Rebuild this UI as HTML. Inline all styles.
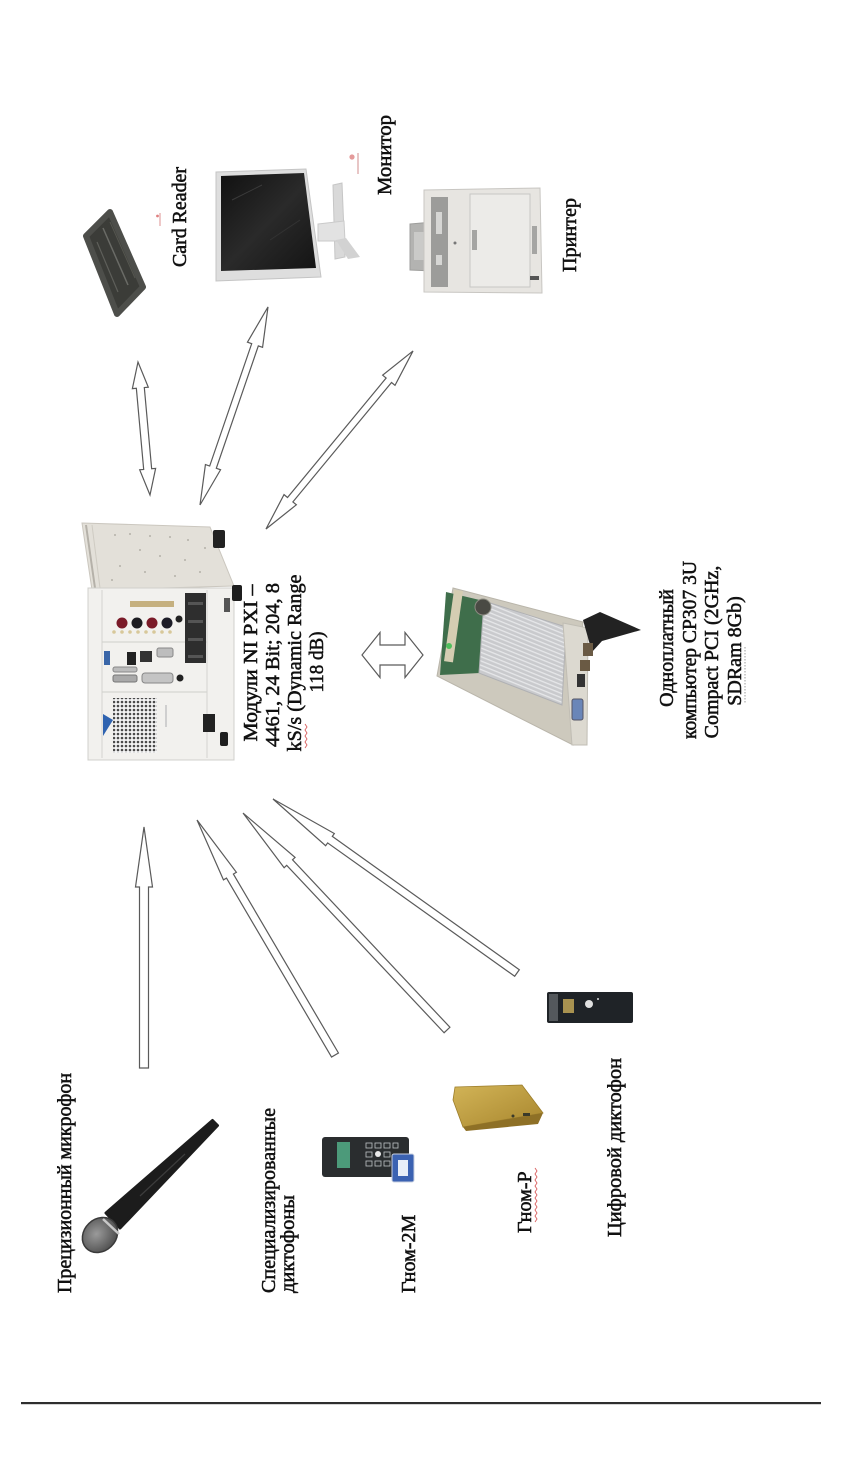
<!DOCTYPE html>
<html>
<head>
<meta charset="utf-8">
<style>
  html,body{margin:0;padding:0;background:#fff;}
  body{width:841px;height:1469px;overflow:hidden;}
  svg{display:block;}
  .t{font-family:"Liberation Serif","Noto Serif CJK SC",serif;font-size:20px;fill:#111;stroke:#111;stroke-width:0.55;}
  .ar{fill:#fff;stroke:#5a5a5a;stroke-width:1.2;stroke-linejoin:miter;}
</style>
</head>
<body>
<svg width="841" height="1469" viewBox="0 0 841 1469" xmlns="http://www.w3.org/2000/svg">
<defs>
  <pattern id="grill" width="4" height="4" patternUnits="userSpaceOnUse">
    <rect width="4" height="4" fill="#f4f4f4"/>
    <circle cx="2" cy="2" r="1.3" fill="#4a4a4a"/>
  </pattern>
  <pattern id="fins" width="4" height="4" patternUnits="userSpaceOnUse" patternTransform="rotate(22)">
    <rect width="4" height="4" fill="#c9cacd"/>
    <rect width="4" height="1.3" fill="#e6e7e9"/>
  </pattern>
  <linearGradient id="gold" x1="0" y1="0" x2="1" y2="1">
    <stop offset="0" stop-color="#d2b457"/>
    <stop offset="1" stop-color="#a8862e"/>
  </linearGradient>
  <linearGradient id="screen" x1="0" y1="0" x2="1" y2="1">
    <stop offset="0" stop-color="#111"/>
    <stop offset="0.5" stop-color="#2a2a2a"/>
    <stop offset="1" stop-color="#141414"/>
  </linearGradient>
  <radialGradient id="mich" cx="0.45" cy="0.4" r="0.6">
    <stop offset="0" stop-color="#9a9a9a"/>
    <stop offset="1" stop-color="#505050"/>
  </radialGradient>
</defs>

<!-- ================= CARD READER ================= -->
<polygon points="86,236 110,212 143,287 117,314" fill="#3b3c38" stroke="#4d4e4a" stroke-width="6" stroke-linejoin="round"/>
<line x1="103" y1="228" x2="128" y2="285" stroke="#6a6b66" stroke-width="1.5"/>
<line x1="97" y1="242" x2="118" y2="292" stroke="#5e5f5a" stroke-width="1.2"/>
<line x1="110" y1="222" x2="135" y2="278" stroke="#55564f" stroke-width="1"/>
<text class="t" transform="translate(186,267) rotate(-90)" textLength="100" lengthAdjust="spacingAndGlyphs">Card Reader</text>
<line x1="160" y1="213" x2="160" y2="226" stroke="#e3a3a3" stroke-width="1.2"/>
<circle cx="157.5" cy="216" r="1.4" fill="#e08080"/>

<!-- ================= MONITOR ================= -->
<polygon points="216,172 306,169 321,277 216,281" fill="#dedede" stroke="#c4c4c4"/>
<polygon points="221,176 304,173 316,268 221,271" fill="url(#screen)"/>
<line x1="232" y1="200" x2="262" y2="185" stroke="#3a3a3a" stroke-width="1"/>
<line x1="270" y1="240" x2="300" y2="220" stroke="#333" stroke-width="1"/>
<!-- stand -->
<polygon points="333,185 342,183 345,257 335,259" fill="#d9d9d9" stroke="#c6c6c6"/>
<polygon points="318,224 344,221 345,241 318,241" fill="#e2e2e2" stroke="#cacaca"/>
<polygon points="336,240 346,238 360,257 348,259" fill="#d2d2d2"/>
<circle cx="352" cy="157" r="2.6" fill="#e49a9a"/>
<line x1="358" y1="153" x2="358" y2="174" stroke="#d9a0a0" stroke-width="1.2"/>
<text class="t" transform="translate(391,195) rotate(-90)" textLength="80" lengthAdjust="spacingAndGlyphs">Монитор</text>

<!-- ================= PRINTER ================= -->
<polygon points="410,224 433,222 433,271 410,270" fill="#b3b3b1" stroke="#9e9e9c"/>
<rect x="414" y="232" width="10" height="28" fill="#cacac8"/>
<polygon points="424,190 540,188 542,293 424,292" fill="#e7e5e1" stroke="#c8c6c2"/>
<rect x="431" y="197" width="17" height="90" fill="#9c9c9a"/>
<rect x="436" y="212" width="6" height="22" fill="#d6d6d4"/>
<rect x="436" y="255" width="6" height="10" fill="#d6d6d4"/>
<rect x="470" y="194" width="60" height="93" fill="#ecebe8" stroke="#c7c7c5"/>
<rect x="472" y="230" width="5" height="20" fill="#a5a5a3"/>
<rect x="532" y="226" width="5" height="28" fill="#a5a5a3"/>
<rect x="530" y="276" width="9" height="4" fill="#555"/>
<circle cx="455" cy="243" r="1.5" fill="#777"/>
<text class="t" transform="translate(576,272) rotate(-90)" textLength="74" lengthAdjust="spacingAndGlyphs">Принтер</text>

<!-- ================= TOP ARROWS ================= -->
<polygon class="ar" transform="translate(150,495) rotate(-95.16)" points="0,0 26,-8 26,-4 107.5,-4 107.5,-8 133.5,0 107.5,8 107.5,4 26,4 26,8"/>
<polygon class="ar" transform="translate(200,505) rotate(-71.05)" points="0,0 40,-8 40,-3.5 169.4,-3.5 169.4,-8 209.4,0 169.4,8 169.4,3.5 40,3.5 40,8"/>
<polygon class="ar" transform="translate(266,529) rotate(-50.45)" points="0,0 38,-8 38,-3.5 192.9,-3.5 192.9,-8 230.9,0 192.9,8 192.9,3.5 38,3.5 38,8"/>

<!-- ================= PXI CHASSIS ================= -->
<polygon points="82,523 210,527 234,586 92,590" fill="#e3e0d9" stroke="#cbc7bf"/>
<line x1="86" y1="525" x2="95" y2="588" stroke="#b5b1a9" stroke-width="2"/>
<line x1="92" y1="525" x2="100" y2="588" stroke="#cfcbc3" stroke-width="1"/>
<g fill="#b4b0a8">
  <circle cx="115" cy="535" r="1"/><circle cx="130" cy="534" r="1"/><circle cx="150" cy="536" r="1"/><circle cx="170" cy="537" r="1"/>
  <circle cx="188" cy="540" r="1"/><circle cx="140" cy="550" r="1"/><circle cx="160" cy="556" r="1"/><circle cx="185" cy="560" r="1"/>
  <circle cx="120" cy="566" r="1"/><circle cx="145" cy="572" r="1"/><circle cx="175" cy="576" r="1"/><circle cx="200" cy="572" r="1"/>
  <circle cx="112" cy="580" r="1"/><circle cx="205" cy="548" r="1"/>
</g>
<rect x="213" y="530" width="12" height="18" rx="2" fill="#222"/>
<!-- front -->
<rect x="88" y="588" width="146" height="172" fill="#f2f1ee" stroke="#d0d0cc"/>
<line x1="102" y1="590" x2="102" y2="758" stroke="#d4d4d0"/>
<line x1="102" y1="642" x2="207" y2="642" stroke="#cfcfcb"/>
<line x1="102" y1="692" x2="207" y2="692" stroke="#cfcfcb"/>
<line x1="207" y1="590" x2="207" y2="758" stroke="#d4d4d0"/>
<!-- module 1 -->
<rect x="130" y="601" width="44" height="6" fill="#c5b07f"/>
<circle cx="122" cy="623" r="5.5" fill="#7a1a28"/>
<circle cx="137" cy="623" r="5.5" fill="#1d1d22"/>
<circle cx="152" cy="623" r="5.5" fill="#7a1a28"/>
<circle cx="167" cy="623" r="5.5" fill="#1d1d28"/>
<circle cx="179" cy="619" r="3.5" fill="#222"/>
<g fill="#d8c89a">
  <circle cx="114" cy="632" r="1.8"/><circle cx="122" cy="632" r="1.8"/><circle cx="130" cy="632" r="1.8"/><circle cx="138" cy="632" r="1.8"/>
  <circle cx="146" cy="632" r="1.8"/><circle cx="154" cy="632" r="1.8"/><circle cx="162" cy="632" r="1.8"/><circle cx="170" cy="632" r="1.8"/>
</g>
<!-- module 2 -->
<rect x="104" y="651" width="6" height="14" fill="#3a66a8"/>
<rect x="127" y="652" width="9" height="13" fill="#222"/>
<rect x="140" y="651" width="12" height="11" fill="#333"/>
<rect x="157" y="648" width="16" height="9" rx="2" fill="#bdbdbd" stroke="#888"/>
<rect x="113" y="667" width="24" height="5" rx="2" fill="#bcbcbc" stroke="#888"/>
<rect x="113" y="675" width="24" height="7" rx="2" fill="#a9a9a9" stroke="#777"/>
<rect x="142" y="673" width="31" height="10" rx="3" fill="#c4c4c4" stroke="#888"/>
<circle cx="180" cy="678" r="3.5" fill="#222"/>
<!-- right black connector strip -->
<rect x="185" y="593" width="21" height="70" fill="#2e2e2e"/>
<rect x="188" y="602" width="15" height="3" fill="#555"/>
<rect x="188" y="620" width="15" height="3" fill="#555"/>
<rect x="188" y="638" width="15" height="3" fill="#555"/>
<rect x="188" y="655" width="15" height="3" fill="#555"/>
<!-- fan grille and logo -->
<rect x="113" y="698" width="44" height="55" fill="url(#grill)"/>
<polygon points="103,714 113,720 103,736" fill="#2f63b0"/>
<rect x="165" y="705" width="2" height="22" fill="#cfcfcf"/>
<rect x="203" y="714" width="12" height="18" fill="#222"/>
<rect x="224" y="598" width="6" height="14" fill="#555"/>
<rect x="232" y="585" width="10" height="16" rx="2" fill="#1e1e1e"/>
<rect x="220" y="732" width="8" height="14" rx="2" fill="#1e1e1e"/>
<!-- PXI text -->
<text class="t" text-anchor="middle" transform="translate(257,663) rotate(-90)" textLength="157" lengthAdjust="spacingAndGlyphs">Модули NI PXI –</text>
<text class="t" text-anchor="middle" transform="translate(279,665) rotate(-90)" textLength="164" lengthAdjust="spacingAndGlyphs">4461, 24 Bit; 204, 8</text>
<text class="t" text-anchor="middle" transform="translate(301,663) rotate(-90)" textLength="177" lengthAdjust="spacingAndGlyphs">kS/s (Dynamic Range</text>
<text class="t" text-anchor="middle" transform="translate(323,662) rotate(-90)" textLength="61" lengthAdjust="spacingAndGlyphs">118 dB)</text>
<path d="M305,748 l2,-3 l-2,-3 l2,-3 l-2,-3 l2,-3 l-2,-3 l2,-3 l-2,-3" fill="none" stroke="#d96060" stroke-width="0.9"/>

<!-- horizontal double arrow -->
<polygon class="ar" transform="translate(362,655)" points="0,0 18,-22.5 18,-10 43,-10 43,-22.5 61,0 43,22.5 43,10 18,10 18,22.5"/>

<!-- ================= CP307 BOARD ================= -->
<polygon points="453,588 583,622 573,745 437,676" fill="#cdc9bd" stroke="#b9b5aa"/>
<polygon points="446,592 484,601 480,673 440,675" fill="#3f6e4b"/>
<rect x="449" y="590" width="9" height="72" fill="#d5cdb2" transform="rotate(8 453 626)"/>
<polygon points="484,601 566,627 562,705 479,673" fill="url(#fins)" stroke="#b0b1b4"/>
<circle cx="483" cy="607" r="8" fill="#4a4a44" stroke="#8a8a80"/>
<circle cx="449" cy="646" r="3" fill="#4fbf5c"/>
<polygon points="563,623 588,628 587,745 572,745" fill="#dcd9d0" stroke="#c0bdb4"/>
<polygon points="583,620 600,612 641,630 602,641 592,652" fill="#222"/>
<rect x="583" y="643" width="10" height="13" fill="#6a5a44"/>
<rect x="580" y="660" width="10" height="11" fill="#6a5a44"/>
<rect x="577" y="674" width="8" height="13" fill="#333"/>
<rect x="572" y="699" width="11" height="21" rx="2" fill="#6a86b8" stroke="#556"/>
<!-- board text -->
<text class="t" text-anchor="middle" transform="translate(673,648) rotate(-90)">Одноплатный</text>
<text class="t" text-anchor="middle" transform="translate(696,650) rotate(-90)" textLength="178" lengthAdjust="spacingAndGlyphs">компьютер CP307 3U</text>
<text class="t" text-anchor="middle" transform="translate(718,652) rotate(-90)">Compact PCI (2GHz,</text>
<text class="t" text-anchor="middle" transform="translate(741,651) rotate(-90)">SDRam 8Gb)</text>
<line x1="745" y1="647" x2="745" y2="704" stroke="#9a9a9a" stroke-width="1" stroke-dasharray="1.5,1.5"/>

<!-- ================= BOTTOM ARROWS ================= -->
<polygon class="ar" transform="translate(144,1068) rotate(-90)" points="0,-4.5 181,-4.5 181,-8.5 241,0 181,8.5 181,4.5 0,4.5"/>
<polygon class="ar" transform="translate(335,1055) rotate(-120.42)" points="0,-4 207.5,-4 207.5,-7.5 272.5,0 207.5,7.5 207.5,4 0,4"/>
<polygon class="ar" transform="translate(447,1030) rotate(-133.23)" points="0,-4 229.8,-4 229.8,-7.5 297.8,0 229.8,7.5 229.8,4 0,4"/>
<polygon class="ar" transform="translate(517,973) rotate(-144.51)" points="0,-4 229.7,-4 229.7,-7.5 299.7,0 229.7,7.5 229.7,4 0,4"/>

<!-- ================= MICROPHONE ================= -->
<polygon points="106,1213 212.5,1120.5 217.5,1125.5 120,1228" fill="#1c1c1c" stroke="#1c1c1c" stroke-width="3" stroke-linejoin="round"/>
<line x1="140" y1="1196" x2="185" y2="1154" stroke="#3c3c3c" stroke-width="1.2"/>
<ellipse cx="100" cy="1235" rx="19" ry="16" transform="rotate(-44 100 1235)" fill="url(#mich)" stroke="#3a3a3a" stroke-width="1.5"/>
<line x1="103" y1="1219" x2="119" y2="1234" stroke="#c8c8c8" stroke-width="2.5"/>
<text class="t" transform="translate(71,1293) rotate(-90)" textLength="220" lengthAdjust="spacingAndGlyphs">Прецизионный микрофон</text>

<!-- ================= Специализированные диктофоны ================= -->
<text class="t" transform="translate(275,1293) rotate(-90)" textLength="185" lengthAdjust="spacingAndGlyphs">Специализированные</text>
<text class="t" transform="translate(294,1293) rotate(-90)" textLength="98" lengthAdjust="spacingAndGlyphs">диктофоны</text>

<!-- Gnom-2M device -->
<rect x="322" y="1137" width="87" height="40" rx="3" fill="#2a2d2f"/>
<rect x="337" y="1142" width="13" height="26" fill="#4c9a7a"/>
<g fill="none" stroke="#bfc4c6" stroke-width="0.8">
  <rect x="366" y="1143" width="6" height="5"/><rect x="375" y="1143" width="6" height="5"/><rect x="384" y="1143" width="6" height="5"/><rect x="393" y="1143" width="5" height="5"/>
  <rect x="366" y="1152" width="6" height="5"/><rect x="384" y="1152" width="6" height="5"/>
  <rect x="366" y="1161" width="6" height="5"/><rect x="375" y="1161" width="6" height="5"/><rect x="384" y="1161" width="6" height="5"/>
</g>
<circle cx="378" cy="1154" r="3" fill="#e8e8e8"/>
<rect x="392" y="1154" width="22" height="28" rx="2" fill="#3b62b2" stroke="#c8d0e0"/>
<rect x="398" y="1160" width="10" height="16" fill="#e8eef8"/>
<text class="t" transform="translate(415,1293) rotate(-90)">Гном-2М</text>

<!-- Gnom-R -->
<polygon points="455,1087 522,1085 543,1113 463,1127 453,1100" fill="url(#gold)" stroke="#9c7d2a" stroke-width="0.8"/>
<polygon points="463,1127 543,1113 538,1124 466,1131" fill="#8e7026"/>
<circle cx="513" cy="1116" r="1.5" fill="#3a3a2a"/>
<rect x="523" y="1113" width="7" height="3" fill="#3a3a2a"/>
<text class="t" transform="translate(531,1233) rotate(-90)">Гном-Р</text>
<path d="M535,1222 l2,-3 l-2,-3 l2,-3 l-2,-3 l2,-3 l-2,-3 l2,-3 l-2,-3 l2,-3 l-2,-3 l2,-3 l-2,-3 l2,-3 l-2,-3 l2,-3 l-2,-3 l2,-3 l-2,-3" fill="none" stroke="#d96060" stroke-width="0.9"/>

<!-- Digital recorder -->
<rect x="547" y="992" width="86" height="31" rx="2" fill="#1f2327"/>
<rect x="549" y="994" width="9" height="27" fill="#54585c"/>
<rect x="563" y="999" width="11" height="14" fill="#a89250"/>
<circle cx="589" cy="1004" r="4" fill="#e0e0e0"/>
<circle cx="598" cy="999" r="1" fill="#ddd"/>
<text class="t" transform="translate(621,1237) rotate(-90)" textLength="179" lengthAdjust="spacingAndGlyphs">Цифровой диктофон</text>

<!-- bottom rule -->
<rect x="21" y="1402" width="800" height="2.2" fill="#2e2e2e"/>
</svg>
</body>
</html>
